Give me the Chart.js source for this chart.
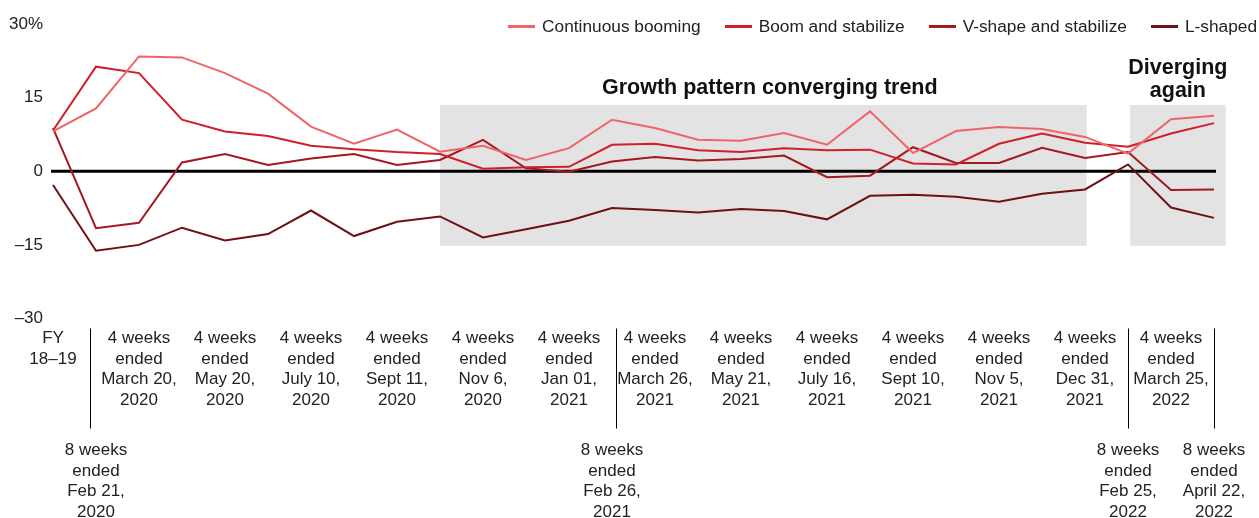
<!DOCTYPE html>
<html>
<head>
<meta charset="utf-8">
<script src="https://cdn.jsdelivr.net/npm/chart.js@4.4.1/dist/chart.umd.min.js"></script>
<style>
  html, body { margin: 0; padding: 0; background: #fff; }
  #wrap { position: relative; width: 1259px; height: 518px; }
  #chart { position: absolute; left: 0; top: 0; }
  #legend {
    position: absolute; top: 16px; right: 2px;
    display: flex; align-items: center;
    font: 17.3px 'Liberation Sans', Arial, sans-serif; line-height: 20px; color: #222;
  }
  #legend .item { display: flex; align-items: center; margin-left: 24px; white-space: nowrap; }
  #legend .item:first-child { margin-left: 0; }
  #legend .swatch { width: 27px; height: 3px; margin-right: 7px; }
</style>
</head>
<body>
<div id="wrap">
  <canvas id="chart" width="1259" height="518"></canvas>
  <div id="legend"></div>
</div>
<script>
// periods on the x axis ('' = unlabeled 4-week period)
const periods = [
  ['FY', '18–19'],
  ['8 weeks', 'ended', 'Feb 21,', '2020'],
  ['4 weeks', 'ended', 'March 20,', '2020'],
  '',
  ['4 weeks', 'ended', 'May 20,', '2020'],
  '',
  ['4 weeks', 'ended', 'July 10,', '2020'],
  '',
  ['4 weeks', 'ended', 'Sept 11,', '2020'],
  '',
  ['4 weeks', 'ended', 'Nov 6,', '2020'],
  '',
  ['4 weeks', 'ended', 'Jan 01,', '2021'],
  ['8 weeks', 'ended', 'Feb 26,', '2021'],
  ['4 weeks', 'ended', 'March 26,', '2021'],
  '',
  ['4 weeks', 'ended', 'May 21,', '2021'],
  '',
  ['4 weeks', 'ended', 'July 16,', '2021'],
  '',
  ['4 weeks', 'ended', 'Sept 10,', '2021'],
  '',
  ['4 weeks', 'ended', 'Nov 5,', '2021'],
  '',
  ['4 weeks', 'ended', 'Dec 31,', '2021'],
  ['8 weeks', 'ended', 'Feb 25,', '2022'],
  ['4 weeks', 'ended', 'March 25,', '2022'],
  ['8 weeks', 'ended', 'April 22,', '2022']
];
const eightWeek = [1, 13, 25, 27];

const continuousBooming = [8.1, 12.8, 23.4, 23.2, 20.0, 15.8, 9.1, 5.6, 8.5, 4.0, 5.2, 2.3, 4.7, 10.5, 8.8, 6.4, 6.2, 7.8, 5.4, 12.2, 3.7, 8.2, 9.0, 8.6, 7.0, 3.6, 10.6, 11.3];
const boomStabilize     = [8.3, 21.3, 20.0, 10.5, 8.1, 7.2, 5.2, 4.5, 3.9, 3.5, 0.5, 0.8, 0.9, 5.4, 5.6, 4.3, 3.9, 4.7, 4.3, 4.4, 1.6, 1.4, 5.6, 7.7, 5.8, 5.0, 7.7, 9.8];
const vShapeStabilize   = [8.8, -11.6, -10.5, 1.8, 3.5, 1.3, 2.6, 3.5, 1.3, 2.3, 6.4, 0.6, -0.1, 2.0, 2.9, 2.2, 2.5, 3.2, -1.2, -0.9, 4.9, 1.7, 1.7, 4.8, 2.7, 3.9, -3.8, -3.7];
const lShaped           = [-2.8, -16.2, -15.0, -11.5, -14.1, -12.8, -8.0, -13.2, -10.3, -9.2, -13.5, -11.8, -10.1, -7.5, -7.9, -8.4, -7.7, -8.1, -9.8, -5.0, -4.8, -5.2, -6.2, -4.6, -3.7, 1.4, -7.4, -9.5];

const yTicks = [30, 15, 0, -15, -30];
const yTickLabels = ['30%', '15', '0', '–15', '–30'];

// shaded periods (x in period index, y in %)
const bands = [
  { from: 9, to: 24.04, top: 13.5, bottom: -15.2 },
  { from: 25.05, to: 27.27, top: 13.5, bottom: -15.2 }
];
const notes = [
  { lines: ['Growth pattern converging trend'], x: 16.67, y: 15.75 },
  { lines: ['Diverging', 'again'], x: 26.16, y: 19.83 }
];
const separatorAt = [0.87, 13.1, 25, 27];

const FONT = "'Liberation Sans', Arial, sans-serif";
Chart.defaults.font.family = FONT;
Chart.defaults.color = '#222';

const decor = {
  id: 'decor',
  beforeDatasetsDraw(chart) {
    const { ctx, scales: { x, y } } = chart;
    ctx.save();
    ctx.fillStyle = '#e3e3e3';
    bands.forEach(b => {
      const l = x.getPixelForValue(b.from), r = x.getPixelForValue(b.to);
      const t = y.getPixelForValue(b.top), bt = y.getPixelForValue(b.bottom);
      ctx.fillRect(l, t, r - l, bt - t);
    });
    // zero line
    const y0 = y.getPixelForValue(0);
    ctx.strokeStyle = '#000';
    ctx.lineWidth = 3;
    ctx.beginPath();
    ctx.moveTo(x.getPixelForValue(0) - 2, y0);
    ctx.lineTo(x.getPixelForValue(periods.length - 1) + 2, y0);
    ctx.stroke();
    ctx.restore();
  },
  afterDraw(chart) {
    const { ctx, scales: { x, y } } = chart;
    ctx.save();
    ctx.strokeStyle = '#000';
    ctx.lineWidth = 1;
    separatorAt.forEach(v => {
      const px = Math.round(x.getPixelForValue(v)) + 0.5;
      ctx.beginPath();
      ctx.moveTo(px, x.top + 10);
      ctx.lineTo(px, x.bottom);
      ctx.stroke();
    });
    ctx.fillStyle = '#111';
    ctx.font = 'bold 21.5px ' + FONT;
    ctx.textAlign = 'center';
    ctx.textBaseline = 'alphabetic';
    notes.forEach(n => {
      const px = x.getPixelForValue(n.x);
      const py = y.getPixelForValue(n.y);
      n.lines.forEach((line, i) => ctx.fillText(line, px, py + i * 23));
    });
    ctx.restore();
  }
};

const series = [
  { label: 'Continuous booming', data: continuousBooming, color: '#f06468' },
  { label: 'Boom and stabilize', data: boomStabilize, color: '#d01f2a' },
  { label: 'V-shape and stabilize', data: vShapeStabilize, color: '#a3191f' },
  { label: 'L-shaped', data: lShaped, color: '#6e1014' }
];

const chart = new Chart(document.getElementById('chart'), {
  type: 'line',
  data: {
    labels: periods,
    datasets: series.map(s => ({
      label: s.label,
      data: s.data,
      borderColor: s.color,
      backgroundColor: s.color,
      borderWidth: 2,
      pointRadius: 0,
      tension: 0,
      fill: false
    }))
  },
  options: {
    responsive: false,
    animation: false,
    devicePixelRatio: 1,
    layout: { padding: { top: 24, right: 45, left: 0, bottom: 0 } },
    plugins: {
      legend: { display: false },
      tooltip: { enabled: false }
    },
    scales: {
      x: {
        type: 'category',
        position: 'bottom',
        weight: 0,
        grid: { display: false, drawTicks: false },
        border: { display: false },
        ticks: {
          autoSkip: false, maxRotation: 0, padding: 10,
          font: { size: 17, lineHeight: 1.2 },
          callback: (v, i) => eightWeek.includes(i) ? '' : periods[i]
        },
        afterFit: s => { s.height = 110; }
      },
      x2: {
        type: 'linear',
        position: 'bottom',
        weight: 1,
        min: 0, max: periods.length - 1,
        grid: { display: false, drawTicks: false },
        border: { display: false },
        ticks: {
          stepSize: 1, autoSkip: false, maxRotation: 0, padding: 12,
          font: { size: 17, lineHeight: 1.2 },
          callback: v => eightWeek.includes(v) ? periods[v] : ''
        },
        afterFit: s => { s.height = 89.5; }
      },
      y: {
        min: -30, max: 30,
        grid: { display: false, drawTicks: false },
        border: { display: false },
        afterBuildTicks: s => { s.ticks = yTicks.map(v => ({ value: v })); },
        ticks: {
          padding: 10,
          font: { size: 17 },
          callback: v => yTickLabels[yTicks.indexOf(v)]
        },
        afterFit: s => { s.width = 53; }
      }
    }
  },
  plugins: [decor]
});

// html legend built from the chart's datasets
const legendEl = document.getElementById('legend');
chart.data.datasets.forEach(ds => {
  const item = document.createElement('div');
  item.className = 'item';
  const sw = document.createElement('span');
  sw.className = 'swatch';
  sw.style.background = ds.borderColor;
  const txt = document.createElement('span');
  txt.textContent = ds.label;
  item.appendChild(sw);
  item.appendChild(txt);
  legendEl.appendChild(item);
});
</script>
</body>
</html>
